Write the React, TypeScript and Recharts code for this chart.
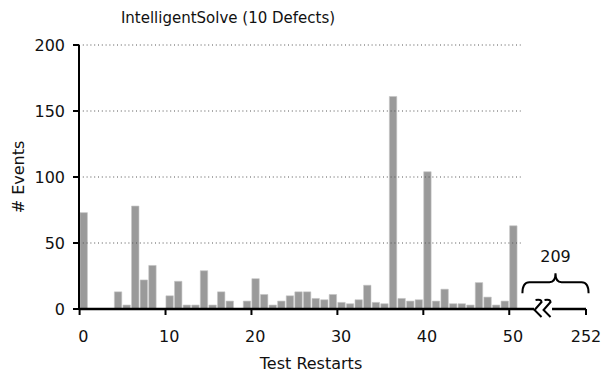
import { BarChart, Bar, XAxis, YAxis, ReferenceLine, ReferenceDot, ReferenceArea } from "recharts";

const title = "IntelligentSolve (10 Defects)";

const restarts = [
  0, 1, 2, 3, 4, 5, 6, 7, 8, 9, 10, 11, 12, 13, 14, 15, 16, 17, 18, 19, 20, 21, 22, 23, 24, 25,
  26, 27, 28, 29, 30, 31, 32, 33, 34, 35, 36, 37, 38, 39, 40, 41, 42, 43, 44, 45, 46, 47, 48, 49, 50,
];
const events = [
  73, 0, 0, 0, 13, 3, 78, 22, 33, 0, 10, 21, 3, 3, 29, 3, 13, 6, 0, 6, 23, 11, 3, 6, 10, 13,
  13, 8, 7, 11, 5, 4, 7, 18, 5, 4, 161, 8, 6, 7, 104, 6, 15, 4, 4, 3, 20, 9, 3, 6, 63,
];

const yTicks = [0, 50, 100, 150, 200];
const xTicks = [0, 10, 20, 30, 40, 50];
const lastRestart = 252;
const skippedLabel = "209";

// the x axis is broken after 50: positions past it are stand-ins, not restart numbers
const axisEnd = 58.5;
const breakAt = 53.5;
const gridEnd = 50.9;
const braceFrom = 51.1;
const braceTo = 58.8;

const data = restarts.map((r, i) => ({ restart: r, events: events[i] }));

const FONT = "'DejaVu Sans', Verdana, sans-serif";
const BAR_W = 7.4;

// tick marks sit at the left edge of each bar, labels at its centre
const XTick = ({ x, y, payload }: any) => {
  const isEnd = payload.value === axisEnd;
  const tx = isEnd ? x : x - BAR_W / 2;
  return (
    <g>
      <line x1={tx} x2={tx} y1={y} y2={y + 6} stroke="#000" strokeWidth={2} />
      <text x={x} y={y + 33} textAnchor="middle" fontSize={16} fontFamily={FONT} fill="#111">
        {isEnd ? lastRestart : payload.value}
      </text>
    </g>
  );
};

const BreakMark = ({ cx, cy }: any) => (
  <g>
    <rect x={cx - 9} y={cy - 3} width={18} height={6} fill="#fff" />
    {[-4.5, 4.5].map((dx) => (
      <path
        key={dx}
        d={`M${cx + dx - 3},${cy - 9} Q${cx + dx + 3},${cy - 10} ${cx + dx + 3},${cy - 7} L${cx + dx - 4},${cy + 1} L${cx + dx + 3},${cy + 8}`}
        fill="none"
        stroke="#000"
        strokeWidth={2}
      />
    ))}
  </g>
);

const Brace = ({ x, y, width, height }: any) => {
  const cx = x + width / 2;
  const m = y + height * 0.45;
  return (
    <g>
      <path
        d={`M${x},${y + height} Q${x},${m} ${x + 7},${m} L${cx - 6},${m} Q${cx},${m} ${cx},${y} Q${cx},${m} ${cx + 6},${m} L${x + width - 7},${m} Q${x + width},${m} ${x + width},${y + height}`}
        fill="none"
        stroke="#000"
        strokeWidth={2}
      />
      <text x={cx} y={y - 11} textAnchor="middle" fontSize={16} fontFamily={FONT} fill="#111">
        {skippedLabel}
      </text>
    </g>
  );
};

export default function App() {
  return (
    <div style={{ position: "absolute", left: 0, top: 0, width: 603, height: 373, background: "#fff" }}>
      <div
        style={{
          position: "absolute",
          left: 0,
          top: 8,
          width: 456,
          textAlign: "center",
          fontFamily: FONT,
          fontSize: 15,
          lineHeight: "20px",
          color: "#111",
        }}
      >
        {title}
      </div>
      <BarChart width={603} height={373} data={data} margin={{ top: 45, right: 17, bottom: 0, left: 0 }}>
        {yTicks.slice(1).map((t) => (
          <ReferenceLine
            key={t}
            segment={[{ x: -0.5, y: t }, { x: gridEnd, y: t }]}
            stroke="#555"
            strokeDasharray="1 2.8"
          />
        ))}
        <XAxis
          dataKey="restart"
          type="number"
          domain={[-0.5, axisEnd]}
          ticks={[...xTicks, axisEnd]}
          interval={0}
          tickSize={0}
          tickMargin={0}
          tickLine={false}
          tick={<XTick />}
          axisLine={{ stroke: "#000", strokeWidth: 2.5 }}
          height={64}
          label={{
            content: ({ viewBox }: any) => (
              <text x={viewBox.x + 232} y={viewBox.y + 60} textAnchor="middle" fontSize={16} fontFamily={FONT} fill="#111">
                Test Restarts
              </text>
            ),
          }}
        />
        <YAxis
          domain={[0, 200]}
          ticks={yTicks}
          interval={0}
          width={79}
          tickSize={6}
          tickMargin={8}
          tickLine={{ stroke: "#000", strokeWidth: 2 }}
          axisLine={{ stroke: "#000", strokeWidth: 2 }}
          tick={{ fontSize: 16, fontFamily: FONT, fill: "#111" }}
          label={{
            content: ({ viewBox }: any) => (
              <text
                x={viewBox.x + 18}
                y={viewBox.y + viewBox.height / 2}
                transform={`rotate(-90 ${viewBox.x + 18} ${viewBox.y + viewBox.height / 2})`}
                textAnchor="middle"
                dominantBaseline="central"
                fontSize={16}
                fontFamily={FONT}
                fill="#111"
              >
                # Events
              </text>
            ),
          }}
        />
        <Bar dataKey="events" barSize={BAR_W} fill="#9a9a9a" stroke="#c4c4c4" strokeWidth={0.6} isAnimationActive={false} />
        <ReferenceDot x={breakAt} y={0} r={0} shape={BreakMark} ifOverflow="visible" />
        <ReferenceArea x1={braceFrom} x2={braceTo} y1={12} y2={27} shape={Brace} ifOverflow="visible" />
      </BarChart>
    </div>
  );
}
